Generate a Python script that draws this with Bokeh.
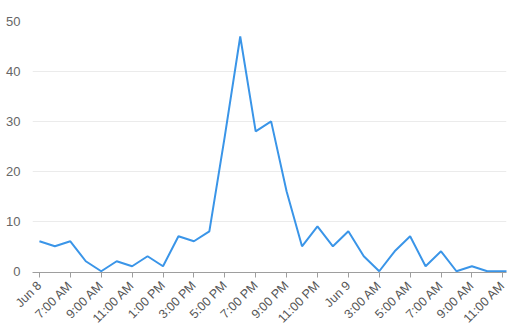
from bokeh.plotting import figure
from bokeh.models import Range1d, FixedTicker, ColumnDataSource
from bokeh.embed import file_html
from bokeh.resources import INLINE

# hours since Jun 8, 5:00 AM
hours = list(range(32))
counts = [6, 5, 6, 2, 0, 2, 1, 3, 1, 7, 6, 8, 27, 47, 28, 30, 16, 5, 9, 5, 8, 3, 0, 4, 7, 1, 4, 0, 1, 0, 0, 0]
tick_hours = list(range(0, 31, 2))
tick_labels = ["Jun 8", "7:00 AM", "9:00 AM", "11:00 AM", "1:00 PM", "3:00 PM", "5:00 PM",
               "7:00 PM", "9:00 PM", "11:00 PM", "Jun 9", "3:00 AM", "5:00 AM", "7:00 AM",
               "9:00 AM", "11:00 AM"]
y_ticks = [0, 10, 20, 30, 40, 50]

src = ColumnDataSource(dict(x=hours, y=counts))

p = figure(width=517, height=333, output_backend="svg", toolbar_location=None,
           x_range=Range1d(-0.45, 30.24), y_range=Range1d(-0.25, 50),
           min_border_left=32, min_border_right=11, min_border_top=21, min_border_bottom=61)
p.outline_line_color = None
p.background_fill_color = "white"
p.border_fill_color = "white"

p.line("x", "y", source=src, line_color="#3a95e8", line_width=2)

p.xaxis.ticker = FixedTicker(ticks=tick_hours)
p.xaxis.major_label_overrides = {h: l for h, l in zip(tick_hours, tick_labels)}
p.xaxis.major_label_orientation = 0.785398
p.xaxis.major_label_text_font = "Arial"
p.xaxis.major_label_text_font_size = "12.5px"
p.xaxis.major_label_text_color = "#555555"
p.xaxis.axis_line_color = "#9e9e9e"
p.xaxis.major_tick_line_color = "#9e9e9e"
p.xaxis.major_tick_out = 5
p.xaxis.major_tick_in = 0
p.xaxis.minor_tick_line_color = None
p.xaxis.major_label_standoff = 6

p.yaxis.ticker = FixedTicker(ticks=y_ticks)
p.yaxis.axis_line_color = None
p.yaxis.major_tick_line_color = None
p.yaxis.minor_tick_line_color = None
p.yaxis.major_label_text_font = "Arial"
p.yaxis.major_label_text_font_size = "13px"
p.yaxis.major_label_text_color = "#666666"
p.yaxis.major_label_standoff = 6

p.xgrid.grid_line_color = None
p.ygrid.grid_line_color = "#ebebeb"
p.ygrid.ticker = FixedTicker(ticks=[10, 20, 30, 40, 50])

open("out.html", "w").write(file_html(p, INLINE))
